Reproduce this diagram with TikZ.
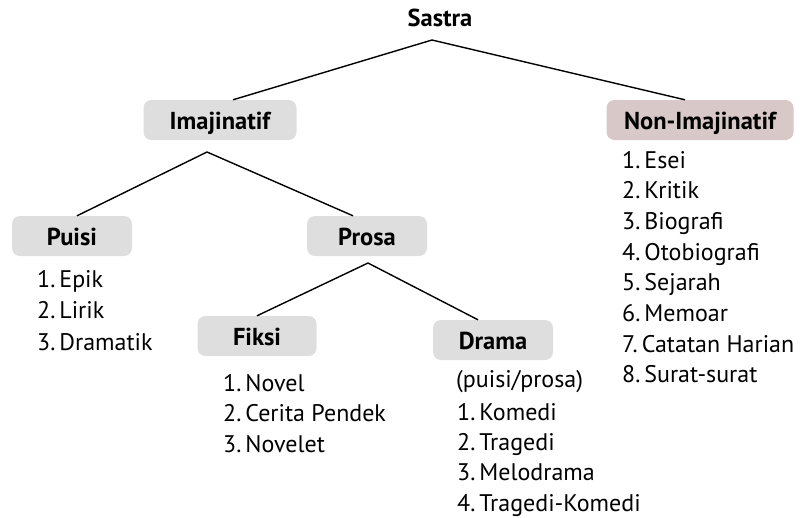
\documentclass[tikz,border=0pt]{standalone}
\usepackage{fontspec}
\setmainfont{PT Sans}
\definecolor{boxgray}{HTML}{DEDEDE}
\definecolor{boxrose}{HTML}{D8C8C8}
\begin{document}
\begin{tikzpicture}[x=1pt,y=-1pt,
  lab/.style={font=\bfseries\fontsize{24.5}{28}\selectfont, inner sep=0pt,
    text height=22pt, text depth=4pt, minimum height=40pt, rounded corners=8pt},
  gbox/.style={lab, fill=boxgray},
  rbox/.style={lab, fill=boxrose},
  title/.style={font=\bfseries\fontsize{24.5}{28}\selectfont, inner sep=0pt, anchor=base},
  item/.style={font=\fontsize{24}{27}\selectfont, anchor=base west, inner sep=0pt},
  link/.style={line width=1.4pt}]
\useasboundingbox (0,0) rectangle (800,517);

\node[title] (sastra) at (440,26) {Sastra};
\node[gbox, minimum width=153pt] (imaj) at (220,120) {Imajinatif};
\node[rbox, minimum width=187pt] (nonimaj) at (700,120) {Non-Imajinatif};
\node[gbox, minimum width=120pt] (puisi) at (72,236) {Puisi};
\node[gbox, minimum width=120pt] (prosa) at (367,236) {Prosa};
\node[gbox, minimum width=119pt] (fiksi) at (257,336) {Fiksi};
\node[gbox, minimum width=120pt] (drama) at (493,340) {Drama};

\coordinate (sj) at ([xshift=-8pt,yshift=-14pt]sastra.base);
\coordinate (ij) at (207,152);
\coordinate (pj) at (368,263);

\draw[link] (sj) -- ([xshift=13pt]imaj.north);
\draw[link] (sj) -- ([xshift=-15pt]nonimaj.north);
\draw[link] (ij) -- ([xshift=5pt]puisi.north);
\draw[link] (ij) -- ([xshift=-14pt]prosa.north);
\draw[link] (pj) -- (fiksi.north);
\draw[link] (pj) -- ([xshift=-15pt]drama.north);

\foreach \t [count=\i] in {Esei, Kritik, Biografi, Otobiografi, Sejarah, Memoar, Catatan Harian, Surat-surat}
  \node[item] (n\i) at (622, {168+30.7*(\i-1)}) {\i.\kern4pt\t};
\foreach \t [count=\i] in {Epik, Lirik, Dramatik}
  \node[item] (p\i) at (37, {287+31.5*(\i-1)}) {\i.\kern4pt\t};
\foreach \t [count=\i] in {Novel, Cerita Pendek, Novelet}
  \node[item] (f\i) at (223, {391+30.5*(\i-1)}) {\i.\kern4pt\t};
\node[item] (dsub) at (456,387) {(puisi/prosa)};
\foreach \t [count=\i] in {Komedi, Tragedi, Melodrama, Tragedi-Komedi}
  \node[item] (d\i) at (457, {420+30.4*(\i-1)}) {\i.\kern4pt\t};
\end{tikzpicture}
\end{document}
